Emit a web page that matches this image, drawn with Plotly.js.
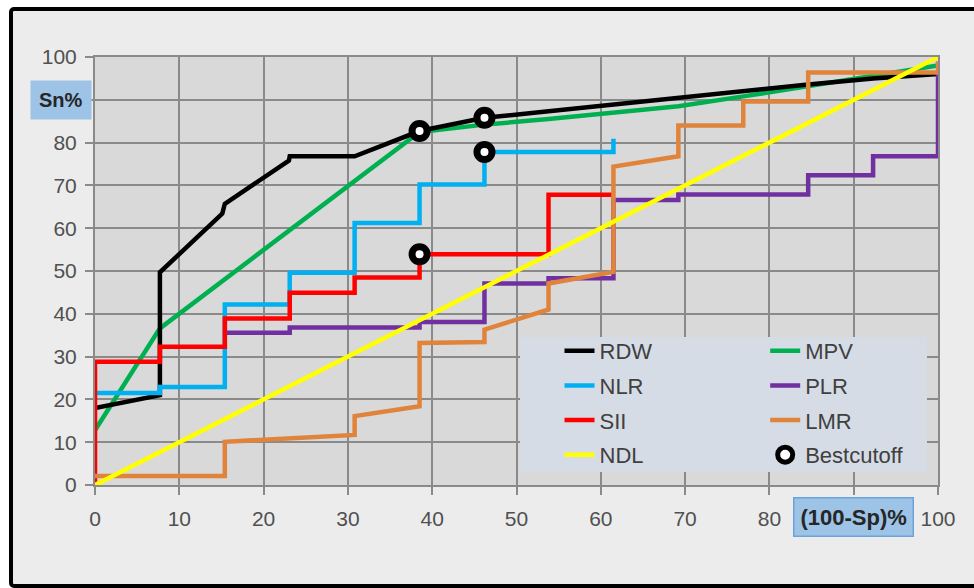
<!DOCTYPE html>
<html>
<head>
<meta charset="utf-8">
<script src="https://cdn.plot.ly/plotly-3.0.1.min.js"></script>
<style>
  html, body { margin: 0; padding: 0; background: #ffffff; overflow: hidden; }
  #frame { position: absolute; left: 9px; top: 7px; width: 1000px; height: 581px;
           box-sizing: border-box; border: 4px solid #000; border-radius: 5px; background: #ececec; }
  #chart { position: absolute; left: 0; top: 0; width: 974px; height: 588px; }
</style>
</head>
<body>
<div id="frame"></div>
<div id="chart"></div>
<script>
// ---- data ----
const rdwX = [0, 7.7, 7.7, 15.1, 15.4, 23, 23.1, 30.8, 38.5, 46.2, 53.8, 61.5, 69.2, 76.9, 84.6, 92.3, 100];
const rdwY = [18, 21, 49.7, 63.4, 65.7, 75.8, 76.8, 76.8, 82.7, 85.8, 87.3, 88.9, 90.4, 92, 93.6, 95, 96];

const mpvX = [0, 7.7, 38.5, 46.2, 53.8, 61.5, 69.2, 76.9, 84.6, 92.3, 100];
const mpvY = [12.8, 36.6, 82.5, 84.2, 85.5, 87, 88.5, 90.8, 93.2, 95.5, 98];

const nlrX = [0, 7.7, 7.7, 15.4, 15.4, 23.1, 23.1, 30.8, 30.8, 38.5, 38.5, 46.2, 46.2, 61.5, 61.5];
const nlrY = [21.5, 21.5, 22.9, 22.9, 42.2, 42.2, 49.6, 49.6, 61.2, 61.2, 70.2, 70.2, 77.8, 77.8, 80.9];

const plrX = [15.4, 23.1, 23.1, 38.5, 38.5, 46.2, 46.2, 53.8, 53.8, 61.5, 61.5, 69.2, 69.2, 84.6, 84.6, 92.3, 92.3, 100, 100];
const plrY = [35.6, 35.6, 36.8, 36.8, 38.1, 38.1, 47.1, 47.1, 48.3, 48.3, 66.6, 66.6, 67.9, 67.9, 72.4, 72.4, 76.8, 76.8, 96];

const siiX = [0, 0, 7.7, 7.7, 15.4, 15.4, 23.1, 23.1, 30.8, 30.8, 38.5, 38.5, 53.8, 53.8, 61.5];
const siiY = [0, 28.8, 28.8, 32.3, 32.3, 38.9, 38.9, 44.9, 44.9, 48.5, 48.5, 53.9, 53.9, 67.8, 67.8];

const lmrX = [0, 15.4, 15.4, 30.8, 30.8, 38.5, 38.5, 46.2, 46.2, 53.8, 53.8, 61.5, 61.5, 69.2, 69.2, 76.9, 76.9, 84.6, 84.6, 100, 100];
const lmrY = [2.1, 2.1, 10.1, 11.7, 16.1, 18.4, 33.2, 33.4, 36.3, 41, 47.1, 49.8, 74.4, 76.8, 84, 84, 89.6, 89.6, 96.4, 96.4, 99];

const ndlX = [0, 100];
const ndlY = [0, 100];

const cutX = [38.5, 46.2, 46.2, 38.5];
const cutY = [82.7, 85.8, 77.8, 53.9];

const tickVals = [0, 10, 20, 30, 40, 50, 60, 70, 80, 90, 100];
const xTickText = ['0', '10', '20', '30', '40', '50', '60', '70', '80', '', '100'];
const yTickText = ['0', '10', '20', '30', '40', '50', '60', '70', '80', '', '100'];

// ---- styling ----
const FONT = 'Liberation Sans, Arial, sans-serif';
const LW = 4.5;
function line(name, x, y, color, leg) {
  return { type: 'scatter', mode: 'lines', name: name, x: x, y: y,
           line: { color: color, width: LW }, legend: leg, legendgroup: name, hoverinfo: 'skip' };
}

const traces = [
  line('MPV', mpvX, mpvY, '#00b050', 'legend2'),
  line('RDW', rdwX, rdwY, '#000000', 'legend'),
  line('NLR', nlrX, nlrY, '#00b0f0', 'legend'),
  line('PLR', plrX, plrY, '#7030a0', 'legend2'),
  line('SII', siiX, siiY, '#ff0000', 'legend'),
  line('LMR', lmrX, lmrY, '#e0843c', 'legend2'),
  line('NDL', ndlX, ndlY, '#ffff00', 'legend'),
  { type: 'scatter', mode: 'markers', name: 'Bestcutoff', x: cutX, y: cutY,
    marker: { symbol: 'circle', size: 15, color: '#ffffff', line: { color: '#000000', width: 7 } },
    legend: 'legend2', legendgroup: 'cut', hoverinfo: 'skip' }
];

const axisCommon = {
  range: [0, 100], tickmode: 'array', tickvals: tickVals,
  showgrid: true, gridcolor: '#8a8a8a', gridwidth: 2,
  showline: true, mirror: true, linecolor: '#8a8a8a', linewidth: 2,
  zeroline: false, ticks: 'outside', ticklen: 8, tickwidth: 2, tickcolor: '#8a8a8a',
  tickfont: { family: FONT, size: 21, color: '#505050' }, fixedrange: true
};

const legendCommon = {
  bgcolor: 'rgba(0,0,0,0)', borderwidth: 0, xanchor: 'left', yanchor: 'top',
  font: { family: FONT, size: 22, color: '#404040' }, tracegroupgap: 3, traceorder: 'grouped'
};

const layout = {
  width: 974, height: 588,
  margin: { l: 95, r: 36, t: 57, b: 103 },
  paper_bgcolor: 'rgba(0,0,0,0)', plot_bgcolor: '#d9d9d9',
  xaxis: Object.assign({}, axisCommon, { ticktext: xTickText, ticklabelstandoff: 6 }),
  yaxis: Object.assign({}, axisCommon, { ticktext: yTickText, ticklabelstandoff: 4 }),
  showlegend: true,
  legend: Object.assign({}, legendCommon, { x: 0.551, y: 0.362 }),
  legend2: Object.assign({}, legendCommon, { x: 0.795, y: 0.362 }),
  shapes: [
    { type: 'rect', xref: 'paper', yref: 'paper', x0: 0.5042, x1: 0.9869, y0: 0.0304, y1: 0.3458,
      fillcolor: '#d6dce5', line: { width: 0 }, layer: 'above' }
  ],
  annotations: [
    { xref: 'paper', yref: 'y', x: 0, y: 90, xanchor: 'right', yanchor: 'middle', xshift: -3,
      text: '<b>Sn%</b>', showarrow: false, bgcolor: '#9dc3e6', borderpad: 8,
      font: { family: FONT, size: 20, color: '#262626' } },
    { xref: 'x', yref: 'paper', x: 90, y: 0, xanchor: 'center', yanchor: 'top', yshift: -12,
      text: '<b>(100-Sp)%</b>', showarrow: false, bgcolor: '#9dc3e6', bordercolor: '#6aa2db',
      borderwidth: 1.5, borderpad: 6,
      font: { family: FONT, size: 22, color: '#262626' } }
  ]
};

Plotly.newPlot('chart', traces, layout, { displayModeBar: false, staticPlot: true });
</script>
</body>
</html>
